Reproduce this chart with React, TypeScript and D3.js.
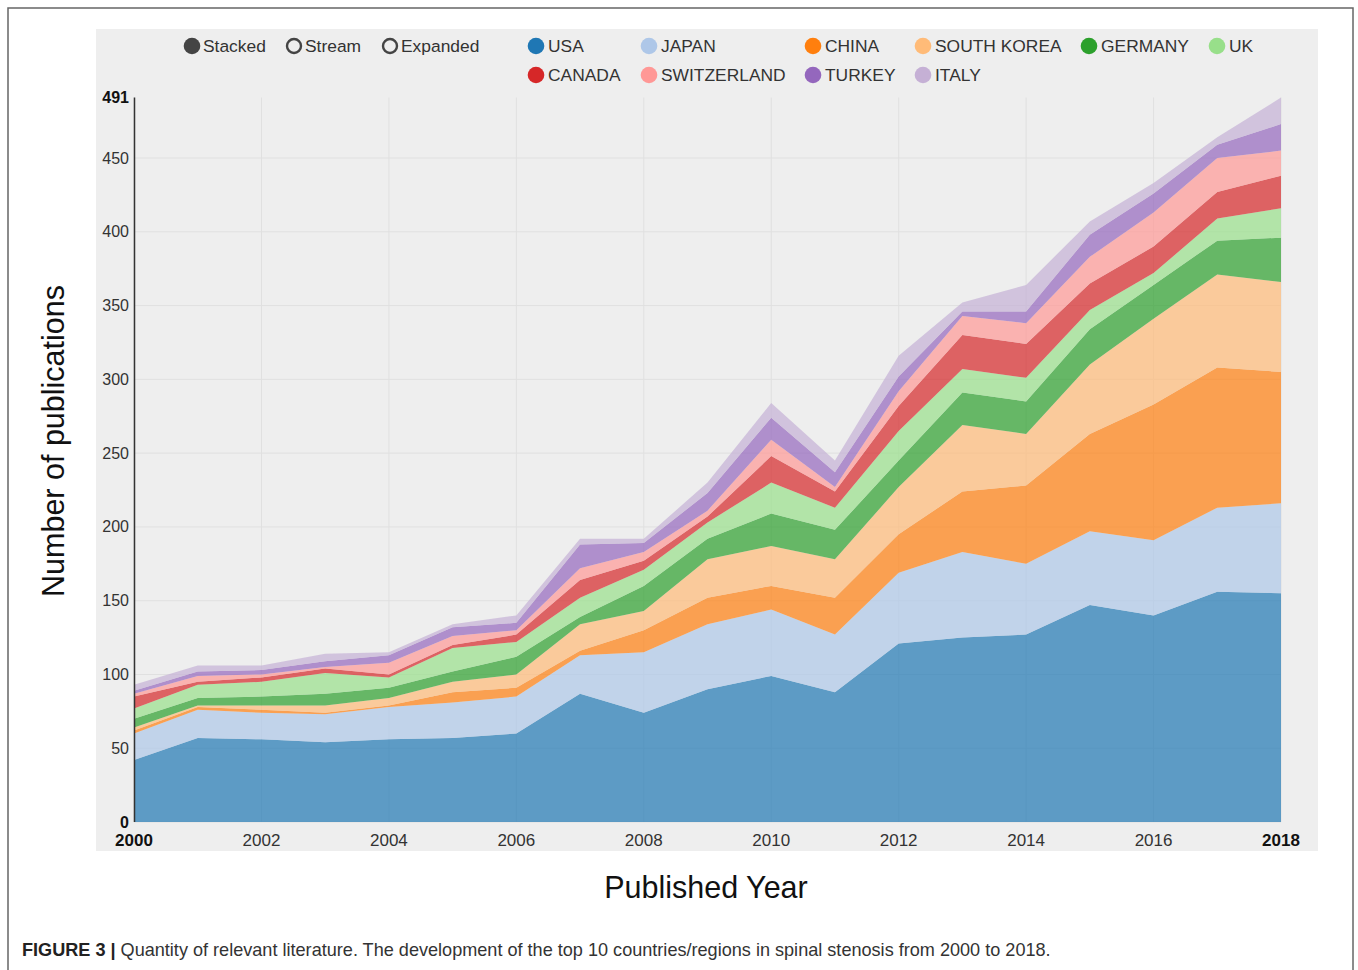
import React from "react";
import * as d3 from "d3";

const years = [2000, 2001, 2002, 2003, 2004, 2005, 2006, 2007, 2008, 2009, 2010, 2011, 2012, 2013, 2014, 2015, 2016, 2017, 2018];
const countries = ["USA", "JAPAN", "CHINA", "SOUTH KOREA", "GERMANY", "UK", "CANADA", "SWITZERLAND", "TURKEY", "ITALY"];
const colors = ["#1f77b4", "#aec7e8", "#ff7f0e", "#ffbb78", "#2ca02c", "#98df8a", "#d62728", "#ff9896", "#9467bd", "#c5b0d5"];

const usa = [42, 57, 56, 54, 56, 57, 60, 87, 74, 90, 99, 88, 121, 125, 127, 147, 140, 156, 155];
const japan = [18, 19, 18, 19, 22, 24, 25, 26, 41, 44, 45, 39, 48, 58, 48, 50, 51, 57, 61];
const china = [2, 2, 2, 1, 1, 7, 6, 3, 15, 18, 16, 25, 26, 41, 53, 66, 92, 95, 89];
const southKorea = [2, 1, 3, 5, 5, 7, 9, 18, 13, 26, 27, 26, 32, 45, 35, 47, 58, 63, 61];
const germany = [6, 5, 6, 8, 7, 7, 12, 5, 17, 14, 22, 20, 18, 22, 22, 24, 23, 23, 30];
const uk = [7, 9, 10, 14, 7, 16, 10, 13, 11, 11, 21, 15, 20, 16, 16, 13, 8, 15, 20];
const canada = [8, 2, 3, 3, 2, 2, 5, 12, 6, 4, 18, 11, 17, 23, 23, 18, 18, 18, 22];
const switzerland = [2, 4, 2, 1, 8, 6, 3, 8, 6, 4, 11, 3, 10, 13, 14, 18, 23, 23, 17];
const turkey = [2, 3, 3, 4, 5, 6, 5, 16, 6, 12, 15, 10, 10, 3, 8, 15, 13, 9, 18];
const italy = [4, 4, 3, 5, 2, 2, 5, 4, 3, 7, 10, 8, 14, 6, 18, 9, 7, 5, 18];

const seriesValues = [usa, japan, china, southKorea, germany, uk, canada, switzerland, turkey, italy];
const modes = ["Stacked", "Stream", "Expanded"];
const yTicks = [0, 50, 100, 150, 200, 250, 300, 350, 400, 450];
const xTicks = [2000, 2002, 2004, 2006, 2008, 2010, 2012, 2014, 2016, 2018];
const yMax = 491;

const FONT = "'Liberation Sans', Arial, sans-serif";

export default function App() {
  const rows = years.map((yr, i) => {
    const r: any = { year: yr };
    countries.forEach((c, k) => (r[c] = seriesValues[k][i]));
    return r;
  });
  const stacked = d3.stack<any>().keys(countries)(rows);

  const x = d3.scaleLinear().domain([2000, 2018]).range([134, 1281]);
  const y = d3.scaleLinear().domain([0, yMax]).range([822, 97.5]);

  const area = d3
    .area<any>()
    .x((d) => x(d.data.year))
    .y0((d) => y(d[0]))
    .y1((d) => y(d[1]))
    .curve(d3.curveLinear);

  const modeX = [192, 294, 390];
  const legendPos = [
    [536, 46], [649, 46], [813, 46], [923, 46], [1089, 46], [1217, 46],
    [536, 75], [649, 75], [813, 75], [923, 75],
  ];

  return (
    <svg
      width={1358}
      height={970}
      style={{ position: "absolute", left: 0, top: 0, background: "#fff" }}
      fontFamily={FONT}
    >
      <rect x={8} y={8} width={1345} height={990} fill="#fff" stroke="#666" strokeWidth={1.5} />
      <rect x={96} y={29} width={1222} height={822} fill="#eeeeee" />

      {/* grid */}
      {xTicks.map((t) => (
        <line key={"gx" + t} x1={x(t)} x2={x(t)} y1={y(yMax)} y2={y(0)} stroke="#e0e0e0" strokeWidth={1} />
      ))}
      {yTicks.map((t) => (
        <line key={"gy" + t} x1={x(2000)} x2={x(2018)} y1={y(t)} y2={y(t)} stroke="#e0e0e0" strokeWidth={1} />
      ))}

      {/* areas */}
      {stacked.map((s, k) => (
        <path key={s.key} d={area(s as any) || ""} fill={colors[k]} fillOpacity={0.7} />
      ))}

      {/* y axis */}
      <line x1={x(2000) + 0.5} x2={x(2000) + 0.5} y1={y(yMax)} y2={y(0)} stroke="#333" strokeWidth={1.5} />
      {yTicks.map((t) => (
        <text
          key={"yl" + t}
          x={129}
          y={y(t)}
          dy="0.35em"
          textAnchor="end"
          fontSize={16}
          fill={t === 0 ? "#111" : "#333"}
          fontWeight={t === 0 ? "bold" : "normal"}
        >
          {t}
        </text>
      ))}
      <text x={129} y={y(yMax)} dy="0.35em" textAnchor="end" fontSize={16} fontWeight="bold" fill="#111">
        {yMax}
      </text>

      {/* x axis labels */}
      {xTicks.map((t) => {
        const edge = t === 2000 || t === 2018;
        return (
          <text
            key={"xl" + t}
            x={x(t)}
            y={840}
            dy="0.35em"
            textAnchor="middle"
            fontSize={17}
            fontWeight={edge ? "bold" : "normal"}
            fill={edge ? "#111" : "#333"}
          >
            {t}
          </text>
        );
      })}

      {/* legend: modes */}
      {modes.map((m, i) => (
        <g key={m}>
          {i === 0 ? (
            <circle cx={modeX[i]} cy={46} r={8.3} fill="#444" />
          ) : (
            <circle cx={modeX[i]} cy={46} r={7} fill="none" stroke="#444" strokeWidth={2.4} />
          )}
          <text x={modeX[i] + 11} y={46} dy="0.35em" fontSize={17.4} fill="#333">
            {m}
          </text>
        </g>
      ))}

      {/* legend: countries */}
      {countries.map((c, k) => (
        <g key={"lg" + c}>
          <circle cx={legendPos[k][0]} cy={legendPos[k][1]} r={8.3} fill={colors[k]} />
          <text x={legendPos[k][0] + 12} y={legendPos[k][1]} dy="0.35em" fontSize={17.4} fill="#333">
            {c}
          </text>
        </g>
      ))}

      {/* axis titles */}
      <text
        transform={`translate(53,441) rotate(-90)`}
        textAnchor="middle"
        dy="0.35em"
        fontSize={30.5}
        fill="#111"
      >
        Number of publications
      </text>
      <text x={706} y={887} dy="0.35em" textAnchor="middle" fontSize={30.5} fill="#111">
        Published Year
      </text>

      {/* caption */}
      <text x={22} y={950} dy="0.35em" fontSize={18.1} fill="#333">
        <tspan fontWeight="bold" fill="#222">FIGURE 3 | </tspan>
        <tspan>
          Quantity of relevant literature. The development of the top 10 countries/regions in spinal stenosis from 2000 to 2018.
        </tspan>
      </text>
    </svg>
  );
}
